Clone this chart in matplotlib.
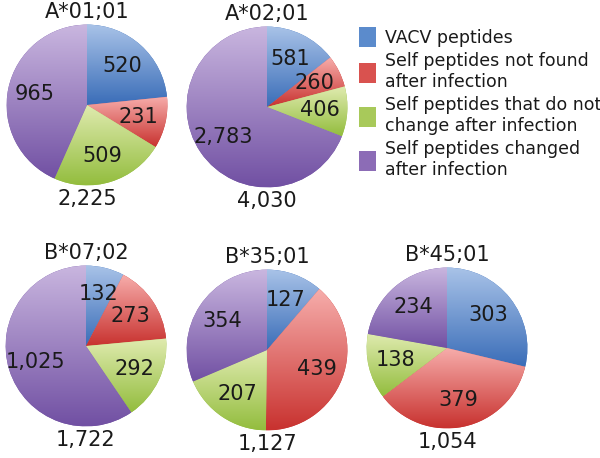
import numpy as np
import matplotlib.pyplot as plt
from matplotlib.colors import LinearSegmentedColormap
from matplotlib.patches import Patch

# HLA alleles, total peptide counts and per-category counts
alleles = ["A*01;01", "A*02;01", "B*07;02", "B*35;01", "B*45;01"]
totals = ["2,225", "4,030", "1,722", "1,127", "1,054"]
vacv = [520, 581, 132, 127, 303]
self_lost = [231, 260, 273, 439, 379]
self_same = [509, 406, 292, 207, 138]
self_changed = [965, 2783, 1025, 354, 234]

legend_labels = [
    "VACV peptides",
    "Self peptides not found\nafter infection",
    "Self peptides that do not\nchange after infection",
    "Self peptides changed\nafter infection",
]

# gradient ends (bottom dark -> top light) and flat colours for legend
dark = ["#3a6db8", "#c8322f", "#93bd3e", "#7150a3"]
light = ["#a9c3e8", "#f7aeac", "#e0ebb0", "#c9b6df"]
mid = ["#5b8bcc", "#d9524f", "#a8c95a", "#8c6cb6"]

plt.rcParams["font.family"] = "DejaVu Sans"
txt_color = "#1a1a1a"

W, H = 600, 458
fig = plt.figure(figsize=(6.0, 4.58), dpi=100)

# pie centres in pixels, radius in pixels
centers = [(87, 105), (267, 107), (86, 346), (267, 350), (447, 348)]
R = 82

grad = np.linspace(0, 1, 256).reshape(-1, 1)

for i, name in enumerate(alleles):
    cx, cy = centers[i]
    ax = fig.add_axes([(cx - R) / W, (H - cy - R) / H, 2 * R / W, 2 * R / H])
    vals = [vacv[i], self_lost[i], self_same[i], self_changed[i]]
    tot = sum(vals)
    wedges, texts = ax.pie(
        vals, startangle=90, counterclock=False, radius=1,
        colors=dark, wedgeprops=dict(linewidth=0),
        autopct=lambda p, t=tot: f"{round(p * t / 100):,}",
        pctdistance=0.66,
        textprops=dict(fontsize=15, color=txt_color),
    )[:2]
    for k, w in enumerate(wedges):
        bb = w.get_path().get_extents(w.get_patch_transform())
        cmap = LinearSegmentedColormap.from_list("g", [dark[k], light[k]])
        ax.imshow(grad, extent=[bb.x0, bb.x1, bb.y0, bb.y1], origin="lower",
                  cmap=cmap, aspect="auto", interpolation="bicubic",
                  clip_path=w, zorder=1.5)
    ax.set_xlim(-1.02, 1.02)
    ax.set_ylim(-1.02, 1.02)
    ax.set_aspect("equal")
    ax.axis("off")
    ax.text(0, 1.03, name, ha="center", va="bottom", fontsize=15,
            color=txt_color, clip_on=False)
    ax.text(0, -1.04, totals[i], ha="center", va="top", fontsize=15,
            color=txt_color, clip_on=False)

handles = [Patch(facecolor=c, edgecolor="none") for c in mid]
fig.legend(handles, legend_labels, loc="upper left",
           bbox_to_anchor=(352 / W, 1 - 20 / H), frameon=False,
           fontsize=12.5, handlelength=1.0, handleheight=1.4,
           handletextpad=0.5, labelspacing=0.3, borderaxespad=0,
           labelcolor=txt_color)

fig.savefig("out.png", dpi=100, facecolor="white")
